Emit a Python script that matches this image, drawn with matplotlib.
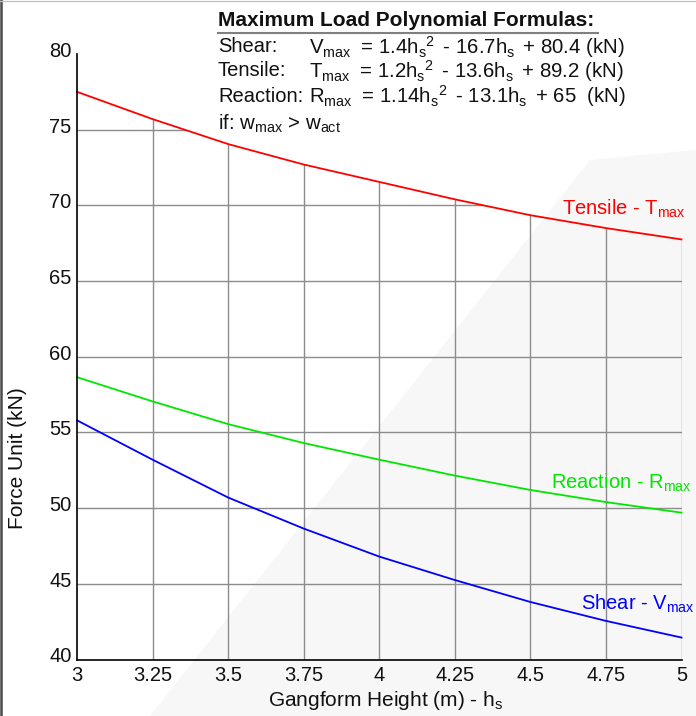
import matplotlib
matplotlib.use("Agg")
import matplotlib.pyplot as plt
import matplotlib.transforms as mtransforms
from matplotlib.patches import Polygon
from matplotlib.lines import Line2D

plt.rcParams["font.family"] = ["Liberation Sans", "DejaVu Sans"]
plt.rcParams["mathtext.fontset"] = "custom"
plt.rcParams["mathtext.rm"] = "Liberation Sans"
plt.rcParams["mathtext.it"] = "Liberation Sans:italic"
plt.rcParams["mathtext.bf"] = "Liberation Sans:bold"

# Gangform height (m) and maximum loads (kN)
height = [3.0, 3.25, 3.5, 3.75, 4.0, 4.25, 4.5, 4.75, 5.0]
tensile = [77.5, 75.7, 74.05, 72.7, 71.55, 70.4, 69.35, 68.5, 67.75]
reaction = [58.65, 57.05, 55.55, 54.3, 53.2, 52.15, 51.2, 50.4, 49.7]
shear = [55.8, 53.2, 50.7, 48.65, 46.8, 45.25, 43.8, 42.55, 41.45]

x_tick_labels = ["3", "3.25", "3.5", "3.75", "4", "4.25", "4.5", "4.75", "5"]
y_ticks = [40, 45, 50, 55, 60, 65, 70, 75, 80]

W, H = 696, 716
fig = plt.figure(figsize=(W / 100, H / 100), dpi=100)


def fx(px):
    return px / W


def fy(py):
    return 1 - py / H


# faint background sheen, behind everything
sheen = Polygon(
    [(fx(150), fy(716)), (fx(590), fy(160)), (fx(696), fy(150)), (fx(696), fy(716))],
    closed=True, transform=fig.transFigure, facecolor="#f7f7f7",
    edgecolor="none", zorder=-5)
fig.patches.append(sheen)

# frame edges
fig.add_artist(Line2D([fx(1.2), fx(1.2)], [0, 1], transform=fig.transFigure,
                      color="#4a4a4a", lw=1.8))
fig.add_artist(Line2D([0, 1], [fy(0.6), fy(0.6)], transform=fig.transFigure,
                      color="#c0c0c0", lw=0.9))

ax = fig.add_axes([fx(77), fy(659.5), fx(681.5) - fx(77), fy(54) - fy(659.5)])
ax.set_zorder(1)
ax.patch.set_visible(False)
ax.set_xlim(3, 5)
ax.set_ylim(40, 80)

# grid only below the tensile curve
clip_verts = [(2.99, 40), (2.99, tensile[0])] + list(zip(height, tensile)) + \
    [(5.01, tensile[-1]), (5.01, 40)]
clip_poly = Polygon(clip_verts, closed=True, facecolor="none", edgecolor="none")
ax.add_patch(clip_poly)

vg = ax.vlines(height[1:], 40, 80, colors="#8c8c8c", lw=1.0, zorder=1)
hg = ax.hlines(y_ticks[1:], 3, 5, colors="#8c8c8c", lw=1.0, zorder=1)
vg.set_clip_path(clip_poly)
hg.set_clip_path(clip_poly)

ax.plot(height, tensile, color="#ff0000", lw=1.3, zorder=3, clip_on=False)
ax.plot(height, reaction, color="#00e600", lw=1.3, zorder=3, clip_on=False)
ax.plot(height, shear, color="#0000ff", lw=1.3, zorder=3, clip_on=False)

for s in ("top", "right"):
    ax.spines[s].set_visible(False)
for s in ("left", "bottom"):
    ax.spines[s].set_color("black")
    ax.spines[s].set_linewidth(1.2)
    ax.spines[s].set_zorder(4)

ax.set_xticks(height, x_tick_labels)
ax.set_yticks(y_ticks)
ax.tick_params(axis="both", length=0, labelsize=14.5, colors="#111111")
ax.tick_params(axis="x", pad=5)
ax.tick_params(axis="y", pad=4)
lift = mtransforms.ScaledTranslation(0, 4.5 / 100, fig.dpi_scale_trans)
for lab in ax.get_yticklabels():
    lab.set_transform(lab.get_transform() + lift)

# series labels
ax.text(5.015, 69.8, r"Tensile - T$_{\mathregular{max}}$", color="#ff0000",
        fontsize=14.5, ha="right", va="center", clip_on=False, zorder=5)
ax.text(5.033, 51.65, r"Reaction - R$_{\mathregular{max}}$", color="#00e600",
        fontsize=14.5, ha="right", va="center", clip_on=False, zorder=5)
ax.text(5.044, 43.7, r"Shear - V$_{\mathregular{max}}$", color="#0000ff",
        fontsize=14.5, ha="right", va="center", clip_on=False, zorder=5)

# axis titles
fig.text(fx(386), fy(700), r"Gangform Height (m) - h$_{\mathregular{s}}$",
         fontsize=15, ha="center", va="center", color="#111111")
fig.text(fx(18), fy(458), "Force Unit (kN)", fontsize=15, rotation=90,
         ha="center", va="center", color="#111111")

# formula box
fig.text(fx(218), fy(20), "Maximum Load Polynomial Formulas:", fontsize=15,
         fontweight="bold", ha="left", va="center", color="#111111")
fig.add_artist(Line2D([fx(218), fx(598)], [fy(33), fy(33)],
                      transform=fig.transFigure, color="#808080", lw=1.5))

SUB_MAX = r"$_{\mathregular{max}}\;$ "
HS2 = r"h$_{\mathregular{s}}$$^{\mathregular{2}}\,$"
HS = r"h$_{\mathregular{s}}\,$"
rows = [
    (47, "Shear:", "V" + SUB_MAX + "= 1.4" + HS2 + " - 16.7" + HS + " + 80.4 (kN)"),
    (71, "Tensile:", "T" + SUB_MAX + "= 1.2" + HS2 + " - 13.6" + HS + " + 89.2 (kN)"),
    (96, "Reaction:", "R" + SUB_MAX + "= 1.14" + HS2 + " - 13.1" + HS + " + 65  (kN)"),
]
for py, name, formula in rows:
    fig.text(fx(218), fy(py), name, fontsize=14.5, ha="left", va="center",
             color="#111111")
    fig.text(fx(309), fy(py), formula, fontsize=14.7, ha="left", va="center",
             color="#111111")
fig.text(fx(218), fy(124),
         r"if: w$_{\mathregular{max}}$ > w$_{\mathregular{act}}$",
         fontsize=14.7, ha="left", va="center", color="#111111")

fig.savefig("out.png", dpi=100)
